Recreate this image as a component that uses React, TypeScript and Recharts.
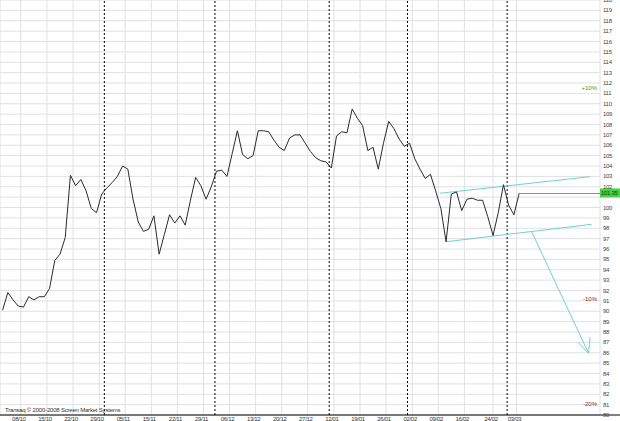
import { CartesianGrid, Line, LineChart, ReferenceLine, XAxis, YAxis } from 'recharts';

// daily closes, one per trading day (08/10 .. 03/03)
const closes = [
  90.1, 91.8, 91.1, 90.5, 90.4, 91.4, 91.1, 91.4, 91.4, 92.2,
  94.9, 95.5, 97.1, 103.1, 102.1, 102.7, 101.6, 99.9, 99.5, 101.3,
  101.9, 102.4, 103.0, 104.0, 103.7, 100.8, 98.6, 97.7, 97.9, 99.2,
  95.5, 97.4, 99.3, 98.5, 99.2, 98.3, 100.7, 102.9, 102.1, 100.8,
  102.0, 103.5, 103.6, 103.0, 105.2, 107.4, 105.1, 104.7, 105.0, 107.4,
  107.4, 107.3, 106.5, 105.8, 105.5, 106.7, 107.0, 107.0, 106.2, 105.4,
  104.8, 104.5, 104.4, 103.8, 106.9, 107.3, 107.2, 109.5, 108.6, 107.9,
  105.5, 105.8, 103.7, 106.2, 108.3, 107.6, 106.6, 105.9, 106.2, 104.7,
  103.7, 102.8, 103.2, 101.6, 99.9, 96.7, 101.3, 101.5, 99.7, 100.8,
  100.9, 100.7, 100.7, 99.1, 97.3, 99.5, 102.2, 100.2, 99.3, 101.35,
];

const weekTicks = [3.5, 8.5, 13.5, 18.5, 23.5, 28.5, 33.5, 38.5, 43.5, 48.5, 53.5, 58.5, 63.5, 68.5, 73.5, 78.5, 83.5, 88.5, 94, 98.5];
const weekLabels = ['08/10', '15/10', '22/10', '29/10', '05/11', '15/11', '22/11', '29/11', '06/12', '13/12', '20/12', '27/12', '12/01', '19/01', '26/01', '02/02', '09/02', '16/02', '24/02', '03/03'];
const monthStarts = [19.5, 40.7, 62.6, 77.6, 96.7];
const priceTicks = Array.from({ length: 41 }, (_, i) => 80 + i);

const lastClose = 101.35;
const lastDay = closes.length - 1;

// hand-drawn channel and projection arrow
const channelUpper = [{ x: 83.8, y: 101.37 }, { x: 112.6, y: 102.97 }];
const channelLower = [{ x: 85, y: 96.7 }, { x: 112.9, y: 98.38 }];
const arrowShaft = [{ x: 101.4, y: 97.67 }, { x: 112.3, y: 85.95 }];
const arrowHeadA = [{ x: 112.3, y: 85.95 }, { x: 112.6, y: 87.5 }];
const arrowHeadB = [{ x: 112.3, y: 85.95 }, { x: 110.3, y: 87.0 }];

const data = closes.map((price, day) => ({ day, price }));

const FONT = '"Liberation Sans", Arial, sans-serif';
const CYAN = '#72cfd0';

const LastPriceTag = ({ viewBox }: any) => {
  const x = viewBox.x + viewBox.width;
  const y = viewBox.y;
  return (
    <g>
      <rect x={x} y={y - 5} width={20} height={9} fill="#3fd63f" />
      <text x={x + 1} y={y + 2} fontSize={6} fontFamily={FONT} fill="#1a3a1a" letterSpacing={-0.3}>
        {lastClose.toFixed(2)}
      </text>
    </g>
  );
};

// the price tag covers the 101 label, as in the terminal
const PriceTick = ({ x, y, payload }: any) =>
  Math.floor(payload.value) === Math.floor(lastClose) ? null : (
    <g>
      {payload.value === 80 && <line x1={x - 3} y1={y} x2={x + 17} y2={y} stroke="#000" />}
      <text x={x} y={y} dy={2} fontSize={6} fontFamily={FONT} fill="#444" letterSpacing={-0.3}>
        {payload.value}
      </text>
    </g>
  );

const pctLabel = (value: string, color: string) => ({
  value,
  position: 'insideRight' as const,
  offset: 3,
  fontSize: 6,
  fontFamily: FONT,
  fill: color,
});

export default function App() {
  return (
    <div style={{ position: 'absolute', left: 0, top: 0, width: 620, height: 421, background: '#fff', overflow: 'hidden' }}>
      <LineChart width={620} height={421} data={data} margin={{ top: 0, right: 0, left: 0, bottom: 0 }}>
        <CartesianGrid stroke="#e0e0e0" strokeWidth={1} />
        <XAxis
          dataKey="day"
          type="number"
          domain={[-0.5, 114.5]}
          ticks={weekTicks}
          tickFormatter={(v) => weekLabels[weekTicks.indexOf(v)] ?? ''}
          interval={0}
          height={6}
          tickLine={false}
          tickSize={0}
          tickMargin={0}
          axisLine={{ stroke: '#000' }}
          tick={{ fontSize: 6, fontFamily: FONT, fill: '#333', dx: -2, dy: 1.5, letterSpacing: -0.3 }}
          allowDataOverflow
        />
        <YAxis
          orientation="right"
          domain={[80, 120]}
          ticks={priceTicks}
          interval={0}
          width={20}
          axisLine={false}
          tickLine={false}
          tickSize={0}
          tickMargin={3}
          tick={<PriceTick />}
        />
        {monthStarts.map((d) => (
          <ReferenceLine key={d} x={d} stroke="#000" strokeDasharray="2 2" />
        ))}
        <ReferenceLine y={lastClose * 1.1} stroke="none" label={pctLabel('+10%', '#2f9e2f')} />
        <ReferenceLine y={lastClose * 0.9} stroke="none" label={pctLabel('-10%', '#8a2a2a')} />
        <ReferenceLine y={lastClose * 0.8} stroke="none" label={pctLabel('-20%', '#8a2a2a')} />
        <ReferenceLine
          segment={[{ x: lastDay, y: lastClose }, { x: 114.5, y: lastClose }]}
          stroke="#8c8c8c"
          label={<LastPriceTag />}
        />
        <ReferenceLine segment={channelUpper} stroke={CYAN} />
        <ReferenceLine segment={channelLower} stroke={CYAN} />
        <ReferenceLine segment={arrowShaft} stroke={CYAN} />
        <ReferenceLine segment={arrowHeadA} stroke={CYAN} />
        <ReferenceLine segment={arrowHeadB} stroke={CYAN} />
        <Line
          type="linear"
          dataKey="price"
          stroke="#2a2a2a"
          strokeWidth={1}
          dot={false}
          activeDot={false}
          isAnimationActive={false}
        />
      </LineChart>
      <div
        style={{
          position: 'absolute',
          left: 5,
          top: 407,
          fontSize: 6,
          fontFamily: FONT,
          color: '#333',
          letterSpacing: -0.2,
          whiteSpace: 'nowrap',
        }}
      >
        Transaq © 2000-2008 Screen Market Systems
      </div>
    </div>
  );
}
